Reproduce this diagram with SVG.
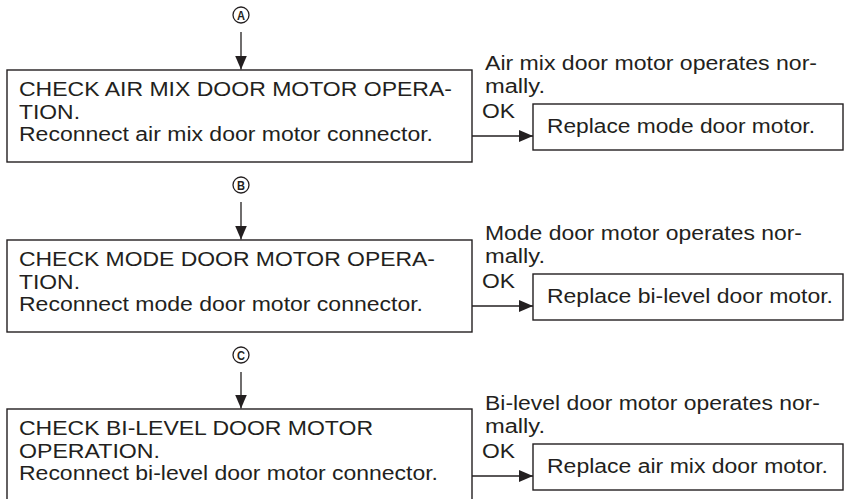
<svg xmlns="http://www.w3.org/2000/svg" width="847" height="499" viewBox="0 0 847 499">
<style>
.box{fill:#fff;stroke:#231f20;stroke-width:1.4}
.t{font-family:"Liberation Sans",Arial,sans-serif;font-size:20px;fill:#231f20}
.c{font-family:"Liberation Sans",Arial,sans-serif;font-size:13px;font-weight:bold;fill:#231f20;text-anchor:middle}
.ln{stroke:#231f20;stroke-width:1.3;fill:none}
.circ{fill:#fff;stroke:#231f20;stroke-width:1.3}
</style>
<defs>
<marker id="ah" markerUnits="userSpaceOnUse" markerWidth="15" markerHeight="13" refX="14" refY="6" orient="auto">
<path d="M0,0 L14,6 L0,12 z" fill="#231f20"/>
</marker>
</defs>
<rect width="847" height="499" fill="#fff"/>
<g id="connectors">
<line class="ln" x1="241" y1="32" x2="241" y2="69.5" marker-end="url(#ah)"/>
<line class="ln" x1="241" y1="202" x2="241" y2="239.5" marker-end="url(#ah)"/>
<line class="ln" x1="241" y1="372" x2="241" y2="408.5" marker-end="url(#ah)"/>
<line class="ln" x1="472" y1="136" x2="533" y2="136" marker-end="url(#ah)"/>
<line class="ln" x1="472" y1="306" x2="533" y2="306" marker-end="url(#ah)"/>
<line class="ln" x1="472" y1="476" x2="533" y2="476" marker-end="url(#ah)"/>
<text class="t" x="485" y="69.5" textLength="332" lengthAdjust="spacingAndGlyphs">Air mix door motor operates nor-</text>
<text class="t" x="485" y="92.5" textLength="60" lengthAdjust="spacingAndGlyphs">mally.</text>
<text class="t" x="482" y="118" textLength="33" lengthAdjust="spacingAndGlyphs">OK</text>
<text class="t" x="485" y="239.5" textLength="317" lengthAdjust="spacingAndGlyphs">Mode door motor operates nor-</text>
<text class="t" x="485" y="262.5" textLength="60" lengthAdjust="spacingAndGlyphs">mally.</text>
<text class="t" x="482" y="288" textLength="33" lengthAdjust="spacingAndGlyphs">OK</text>
<text class="t" x="485" y="409.5" textLength="335" lengthAdjust="spacingAndGlyphs">Bi-level door motor operates nor-</text>
<text class="t" x="485" y="432.5" textLength="60" lengthAdjust="spacingAndGlyphs">mally.</text>
<text class="t" x="482" y="458" textLength="33" lengthAdjust="spacingAndGlyphs">OK</text>
</g>
<g id="markA">
<circle class="circ" cx="241" cy="15" r="8"/>
<text class="c" x="241" y="19.5" textLength="8" lengthAdjust="spacingAndGlyphs">A</text>
</g>
<g id="markB">
<circle class="circ" cx="241" cy="185" r="8"/>
<text class="c" x="241" y="189.5" textLength="8" lengthAdjust="spacingAndGlyphs">B</text>
</g>
<g id="markC">
<circle class="circ" cx="241" cy="355" r="8"/>
<text class="c" x="241" y="359.5" textLength="8" lengthAdjust="spacingAndGlyphs">C</text>
</g>
<g id="check1">
<rect class="box" x="7" y="70" width="465" height="92"/>
<text class="t" x="19" y="96" textLength="433" lengthAdjust="spacingAndGlyphs">CHECK AIR MIX DOOR MOTOR OPERA-</text>
<text class="t" x="19" y="118.5" textLength="61" lengthAdjust="spacingAndGlyphs">TION.</text>
<text class="t" x="19" y="141" textLength="414" lengthAdjust="spacingAndGlyphs">Reconnect air mix door motor connector.</text>
</g>
<g id="check2">
<rect class="box" x="7" y="240" width="465" height="92"/>
<text class="t" x="19" y="266" textLength="416" lengthAdjust="spacingAndGlyphs">CHECK MODE DOOR MOTOR OPERA-</text>
<text class="t" x="19" y="288.5" textLength="61" lengthAdjust="spacingAndGlyphs">TION.</text>
<text class="t" x="19" y="311" textLength="404" lengthAdjust="spacingAndGlyphs">Reconnect mode door motor connector.</text>
</g>
<g id="check3">
<rect class="box" x="7" y="409" width="465" height="92"/>
<text class="t" x="19" y="435" textLength="354" lengthAdjust="spacingAndGlyphs">CHECK BI-LEVEL DOOR MOTOR</text>
<text class="t" x="19" y="457.5" textLength="141" lengthAdjust="spacingAndGlyphs">OPERATION.</text>
<text class="t" x="19" y="480" textLength="419" lengthAdjust="spacingAndGlyphs">Reconnect bi-level door motor connector.</text>
</g>
<g id="replace1">
<rect class="box" x="533" y="104" width="310" height="46"/>
<text class="t" x="547" y="133" textLength="268" lengthAdjust="spacingAndGlyphs">Replace mode door motor.</text>
</g>
<g id="replace2">
<rect class="box" x="533" y="274" width="310" height="46"/>
<text class="t" x="547" y="303" textLength="286" lengthAdjust="spacingAndGlyphs">Replace bi-level door motor.</text>
</g>
<g id="replace3">
<rect class="box" x="533" y="444" width="310" height="46"/>
<text class="t" x="547" y="473" textLength="281" lengthAdjust="spacingAndGlyphs">Replace air mix door motor.</text>
</g>
</svg>
